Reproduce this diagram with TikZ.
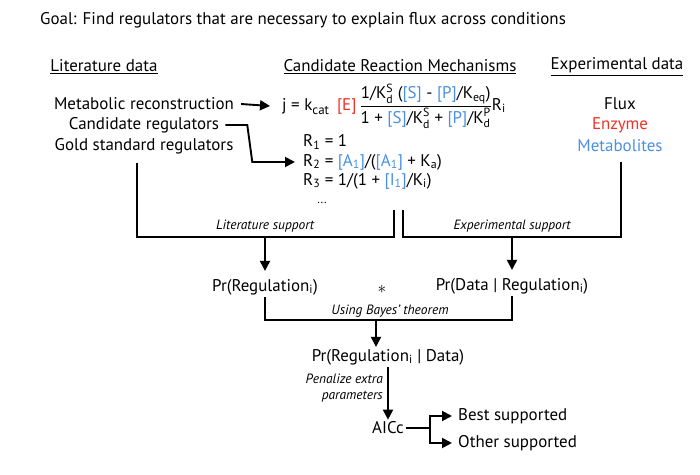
\documentclass[tikz,border=0pt]{standalone}
\usepackage{amsmath}
\usepackage{fontspec}
\setmainfont{PT Sans}
\usepackage{tikz}
\usetikzlibrary{arrows.meta,calc}
\definecolor{regred}{RGB}{237,50,36}
\definecolor{regblue}{RGB}{74,144,226}
\newcommand{\cb}[1]{\textcolor{regblue}{#1}}
\newcommand{\Kd}[1]{K$^{\text{#1}}_{\text{d}}$}
\newcommand{\lo}[1]{\raisebox{-0.55ex}{\fontsize{13}{13}\selectfont #1}}
\tikzset{
  lbl/.style={font=\fontsize{17}{20}\selectfont, inner sep=2bp},
  note/.style={font=\fontsize{13.5}{16}\selectfont\itshape, inner sep=1bp},
  conn/.style={line width=1.9bp, >={Triangle[length=10bp,width=10bp]}}
}

\begin{document}
\begin{tikzpicture}[x=1bp, y=-1bp]
	\useasboundingbox (0,0) rectangle (700,475);

	\node[lbl, anchor=west] (goal) at (38,20) {Goal: Find regulators that are necessary to explain flux across conditions};
	\node[lbl] (hlit) at (104,67) {\underline{Literature data}};
	\node[lbl] (hmech) at (400,67) {\underline{Candidate Reaction Mechanisms}};
	\node[lbl] (hexp) at (617,67) {\underline{Experimental data}};

	\node[lbl] (metab) at (144,104) {Metabolic reconstruction};
	\node[lbl] (cand) at (144,125) {Candidate regulators};
	\node[lbl] (gold) at (144,146) {Gold standard regulators};

	\node[lbl, anchor=west] (jeq) at (280,106) {j = k\lo{cat}\hspace{8bp}\textcolor{regred}{[E]}\hspace{3bp}$\dfrac{\text{1/\Kd{S} (\cb{[S]} - \cb{[P]}/K\textsubscript{eq})}}{\text{\rule{0pt}{13pt}1 + \cb{[S]}/\Kd{S} + \cb{[P]}/\Kd{P}}}$R\textsubscript{i}};
	\node[lbl, anchor=west] (r1) at (301,142) {R\textsubscript{1} = 1};
	\node[lbl, anchor=west] (r2) at (301,162) {R\textsubscript{2} = \cb{[A\textsubscript{1}]}/(\cb{[A\textsubscript{1}]} + K\textsubscript{a})};
	\node[lbl, anchor=west] (r3) at (301,181) {R\textsubscript{3} = 1/(1 + \cb{[I\textsubscript{1}]}/K\textsubscript{i})};
	\node[note, font=\fontsize{12}{12}\selectfont] (rdots) at (322,203) {...};

	\node[lbl] (flux) at (620,104) {Flux};
	\node[lbl, text=regred] (enz) at (620,125) {Enzyme};
	\node[lbl, text=regblue] (mets) at (620,146) {Metabolites};

	\draw[conn,->] ([xshift=5bp]metab.east) -- ([xshift=-10bp]jeq.west);
	\draw[conn,->] ([xshift=4bp]cand.east) -- ++(22,0) -- ++(5,37) -- ([xshift=-6bp]r2.west);

	\coordinate (litT) at (137,163);
	\coordinate (litB) at (265,237);
	\coordinate (litE) at (394,210);
	\coordinate (expT) at (621,162);
	\coordinate (expB) at (512,237);
	\coordinate (expE) at (403,210);
	\draw[conn] (litT) |- (litB) -| (litE);
	\draw[conn] (expT) |- (expB) -| (expE);
	\node[note] (litsup) at (265,226) {Literature support};
	\node[note] (expsup) at (512,226) {Experimental support};

	\node[lbl] (prreg) at (265,287) {Pr(Regulation\textsubscript{i})};
	\node[lbl] (times) at (382,289) {$*$};
	\node[lbl] (prdata) at (512,286) {Pr(Data | Regulation\textsubscript{i})};
	\draw[conn,->] (litB) -- ([yshift=6bp]prreg.north);
	\draw[conn,->] (expB) -- ([yshift=6bp]prdata.north);

	\coordinate (bayes) at (376,320);
	\draw[conn] (prreg.south) |- (bayes) -| (prdata.south);
	\node[note] (bayeslbl) at (390,311) {Using Bayes' theorem};

	\node[lbl] (prpost) at (388,357) {Pr(Regulation\textsubscript{i} | Data)};
	\draw[conn,->] (bayes) -- (bayes |- prpost.north);

	\node[lbl] (aicc) at (388,428) {AICc};
	\draw[conn,->] (prpost.south) -- (aicc.north);
	\node[note, anchor=east, align=right] (pen) at (384,388) {Penalize extra\\parameters};

	\coordinate (fork) at (430,428);
	\node[lbl, anchor=west] (best) at (456,416) {Best supported};
	\node[lbl, anchor=west] (other) at (456,443) {Other supported};
	\draw[conn] (aicc.east) -- (fork);
	\draw[conn,->, shorten >=4bp] (fork) |- (best.west);
	\draw[conn,->, shorten >=4bp] (fork) |- (other.west);
\end{tikzpicture}
\end{document}
